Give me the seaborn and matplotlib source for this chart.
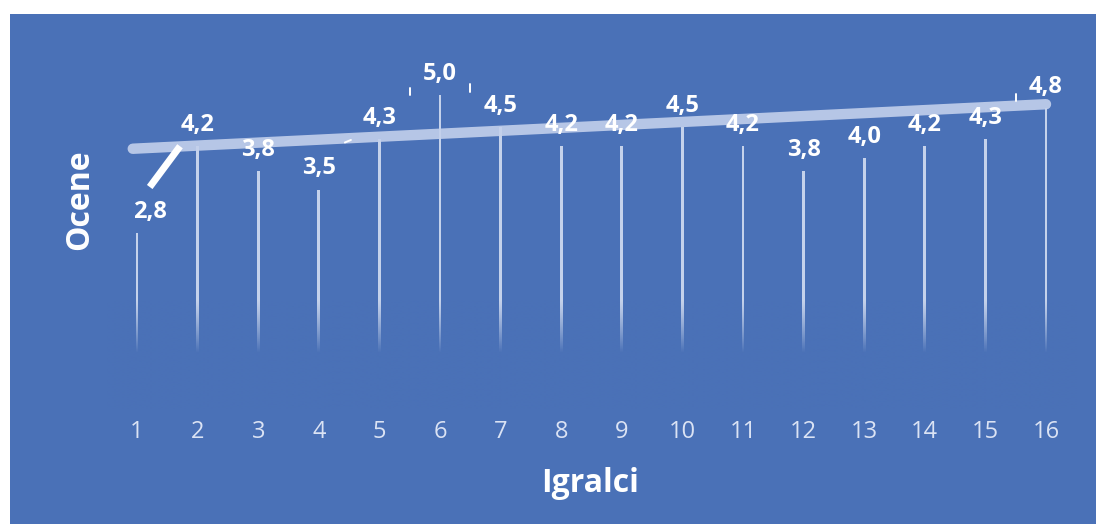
import numpy as np
import pandas as pd
import matplotlib
matplotlib.use("Agg")
import matplotlib.pyplot as plt
from matplotlib.patches import Rectangle
from matplotlib.colors import to_rgb
import seaborn as sns

# Data
players = [str(i) for i in range(1, 17)]
scores = [2.8, 4.2, 3.8, 3.5, 4.3, 5.0, 4.5, 4.2, 4.2, 4.5, 4.2, 3.8, 4.0, 4.2, 4.3, 4.8]
trend_x = [-0.07, 15.0]
trend_y = [4.15, 4.86]

BG = "#4a71b7"
BAR = "#d3ddf1"
TREND = "#c3d0ec"

sns.set_theme(style="white")
plt.rcParams["font.family"] = ["Open Sans", "DejaVu Sans"]

fig = plt.figure(figsize=(10.96, 5.24), dpi=100)
fig.patch.set_facecolor("white")
fig.patches.append(Rectangle((10 / 1096, 0), 1 - 10 / 1096, 1 - 14 / 524,
                             transform=fig.transFigure, facecolor=BG,
                             edgecolor="none", zorder=-5))

ax = fig.add_axes([106.7 / 1096, (524 - 409) / 524, 969.6 / 1096, (409 - 76) / 524])
ax.set_facecolor("none")
ax.set_zorder(2)

df = pd.DataFrame({"Igralec": players, "Ocena": scores})
sns.barplot(data=df, x="Igralec", y="Ocena", color=BAR, width=0.045,
            saturation=1, ax=ax, zorder=2)
for p in ax.patches:
    p.set_edgecolor("none")
    p.set_alpha(0.9)

ax.set_xlim(-0.5, 15.5)
ax.set_ylim(0, 5.31)

# fade the lower part of the columns into the background
h = 200
alpha = np.clip((1.75 - np.linspace(0, 1.75, h)) / 0.85, 0, 1) ** 1.2
grad = np.zeros((h, 2, 4))
grad[..., :3] = to_rgb(BG)
grad[..., 3] = alpha[:, None]
ax.imshow(grad, extent=(-0.5, 15.5, 0, 1.75), origin="lower", aspect="auto",
          zorder=3, interpolation="bilinear")

# trend line
sns.lineplot(x=trend_x, y=trend_y, ax=ax, color=TREND, lw=7.5, alpha=0.9,
             solid_capstyle="round", zorder=4)

# leader lines of the value labels
ax.plot([0.21, 0.71], [3.54, 4.19], color="white", lw=5, zorder=5,
        solid_capstyle="butt")
for (x0, x1, y0, y1) in [(4.5, 4.5, 5.0, 5.12), (5.5, 5.5, 5.06, 5.18),
                         (14.5, 14.5, 4.91, 5.02), (3.43, 3.53, 4.25, 4.29)]:
    ax.plot([x0, x1], [y0, y1], color="white", lw=1.4, zorder=5)

# value labels
for i, v in enumerate(scores):
    dx = 0.21 if i == 0 else 0.0
    ax.text(i + dx, v + 0.335, f"{v:.1f}".replace(".", ","), ha="center",
            va="center", color="white", fontsize=17, fontweight="bold",
            zorder=6)

ax.tick_params(axis="x", length=0, pad=8, labelsize=17, labelcolor="#dbe3f4")
ax.set_yticks([])
ax.set_xlabel("")
ax.set_ylabel("")
for s in ax.spines.values():
    s.set_visible(False)

fig.text(590 / 1096, 1 - 483 / 524, "Igralci", ha="center", va="center",
         color="white", fontsize=23, fontweight="bold")
fig.text(80 / 1096, 1 - 200 / 524, "Ocene", ha="center", va="center",
         rotation=90, color="white", fontsize=23, fontweight="bold")

fig.savefig("out.png", dpi=100, facecolor="white")
